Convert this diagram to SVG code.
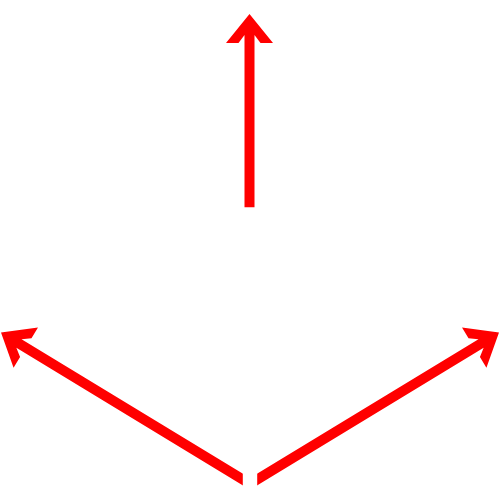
<svg xmlns="http://www.w3.org/2000/svg" xmlns:xlink="http://www.w3.org/1999/xlink" width="500" height="500" viewBox="0 0 500 500">
  <style>
    .arrow { fill: #ff0000; stroke: none; }
  </style>
  <defs>
    <polygon id="arrowShort" class="arrow" points="0,0 23.5,29 11,29 5,21 5,193.3 -5,193.3 -5,21 -11,29 -23.5,29"/>
    <polygon id="arrowLong" class="arrow" points="0,0 23.5,29 11,29 5,21 5,300 -5,300 -5,21 -11,29 -23.5,29"/>
    <clipPath id="clipLeft"><rect x="0" y="0" width="242.8" height="500"/></clipPath>
    <clipPath id="clipRight"><rect x="257.2" y="0" width="242.8" height="500"/></clipPath>
  </defs>
  <rect width="500" height="500" fill="#ffffff"/>
  <g id="connectors">
    <g id="arrow-up">
      <use xlink:href="#arrowShort" transform="translate(249.5,14)"/>
    </g>
    <g id="arrow-left" clip-path="url(#clipLeft)">
      <use xlink:href="#arrowLong" transform="translate(1,332.5) rotate(-58.7)"/>
    </g>
    <g id="arrow-right" clip-path="url(#clipRight)">
      <use xlink:href="#arrowLong" transform="translate(499,332.5) rotate(58.7)"/>
    </g>
  </g>
</svg>
